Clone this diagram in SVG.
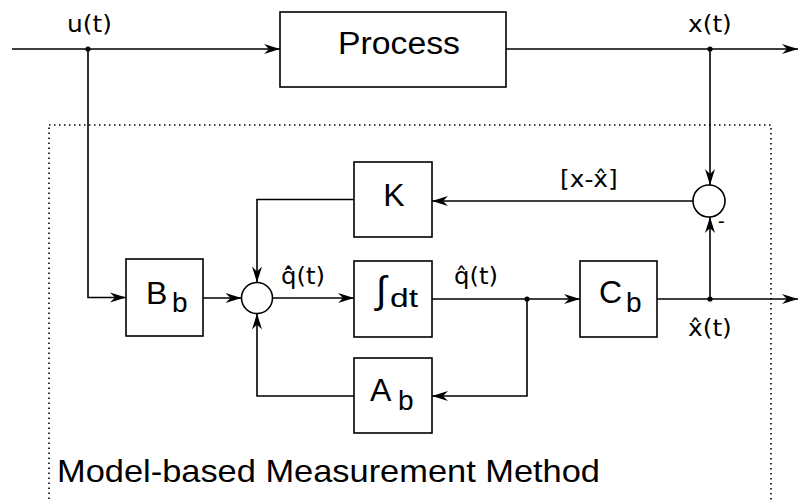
<svg xmlns="http://www.w3.org/2000/svg" width="799" height="500" viewBox="0 0 799 500">
<style>
  .box { fill: #fff; stroke: #000; stroke-width: 1.6; }
  .sum { fill: #fff; stroke: #000; stroke-width: 1.6; }
  .wire { fill: none; stroke: #000; stroke-width: 1.6; }
  .wa { fill: none; stroke: #000; stroke-width: 1.6; marker-end: url(#arr); }
  .dot { fill: #000; }
  .frame { fill: none; stroke: #000; stroke-width: 1.6; stroke-dasharray: 1.5 3.5; }
  text { font-family: "Liberation Sans", Arial, "DejaVu Sans", sans-serif; fill: #000; }
  .acc { font-family: "DejaVu Sans", "Liberation Sans", sans-serif; font-size: 23px; }
  .blk { font-size: 32px; }
  .sub { font-size: 28px; }
</style>
<defs>
  <marker id="arr" markerUnits="userSpaceOnUse" viewBox="-17 -6 18 12" refX="0" refY="0" markerWidth="18" markerHeight="12" orient="auto">
    <path d="M0,0 L-16,-5 L-11,0 L-16,5 Z" fill="#000"/>
  </marker>
</defs>
<rect width="799" height="500" fill="#fff"/>

<g id="boundary">
  <rect class="frame" x="49" y="125" width="722" height="420"/>
  <text x="57" y="482" font-size="30.5" textLength="543" lengthAdjust="spacingAndGlyphs">Model-based Measurement Method</text>
</g>

<g id="connectors">
  <path class="wa" d="M12,49 H280"/>
  <path class="wa" d="M506,49 H798"/>
  <path class="wa" d="M88,49 V297.5 H126"/>
  <path class="wa" d="M710,49 V185"/>
  <path class="wa" d="M693,201 H432"/>
  <path class="wa" d="M354,199.5 H257 V282.5"/>
  <path class="wa" d="M203,298 H241.5"/>
  <path class="wa" d="M272.5,298 H354"/>
  <path class="wire" d="M432,299 H527"/>
  <path class="wa" d="M527,299 H580"/>
  <path class="wa" d="M657,299 H798"/>
  <path class="wa" d="M710,299 V217"/>
  <path class="wa" d="M527,299 V396 H432"/>
  <path class="wa" d="M354,396 H257 V313.5"/>
  <circle class="dot" cx="88" cy="49" r="2.6"/>
  <circle class="dot" cx="710" cy="49" r="2.6"/>
  <circle class="dot" cx="527" cy="299" r="2.6"/>
  <circle class="dot" cx="710" cy="299" r="2.6"/>
</g>

<g id="labels">
  <text class="acc" transform="translate(67,32) scale(1.08,1)">u(t)</text>
  <text class="acc" transform="translate(688,32) scale(1.08,1)">x(t)</text>
  <text class="acc" transform="translate(560,187) scale(1.08,1)">[x-x̂]</text>
  <text class="acc" transform="translate(281,284) scale(1.06,1)">q̂̇(t)</text>
  <text class="acc" transform="translate(454,284) scale(1.06,1)">q̂(t)</text>
  <text class="acc" transform="translate(688,336) scale(1.08,1)">x̂(t)</text>
  <text x="718" y="228" font-size="20">-</text>
</g>

<g id="process">
  <rect class="box" x="280" y="12" width="226" height="75"/>
  <text x="338" y="54" font-size="31" textLength="122" lengthAdjust="spacingAndGlyphs">Process</text>
</g>

<g id="K">
  <rect class="box" x="354" y="162" width="78" height="75"/>
  <text class="blk" x="394" y="206" text-anchor="middle">K</text>
</g>

<g id="Bb">
  <rect class="box" x="126" y="259" width="77" height="77"/>
  <text class="blk" x="146" y="304">B<tspan class="sub" x="172" y="312">b</tspan></text>
</g>

<g id="sum1">
  <circle class="sum" cx="257" cy="298" r="15.5"/>
</g>

<g id="integrator">
  <rect class="box" x="354" y="261" width="78" height="76"/>
  <text x="376" y="303" font-size="38">∫<tspan x="390" y="307" font-size="26" textLength="28" lengthAdjust="spacingAndGlyphs">dt</tspan></text>
</g>

<g id="Cb">
  <rect class="box" x="580" y="261" width="77" height="76"/>
  <text class="blk" x="599" y="303">C<tspan class="sub" x="626" y="312">b</tspan></text>
</g>

<g id="Ab">
  <rect class="box" x="354" y="358" width="78" height="75"/>
  <text class="blk" x="370" y="401">A<tspan class="sub" x="398" y="410">b</tspan></text>
</g>

<g id="sum2">
  <circle class="sum" cx="709" cy="201" r="16"/>
</g>
</svg>
